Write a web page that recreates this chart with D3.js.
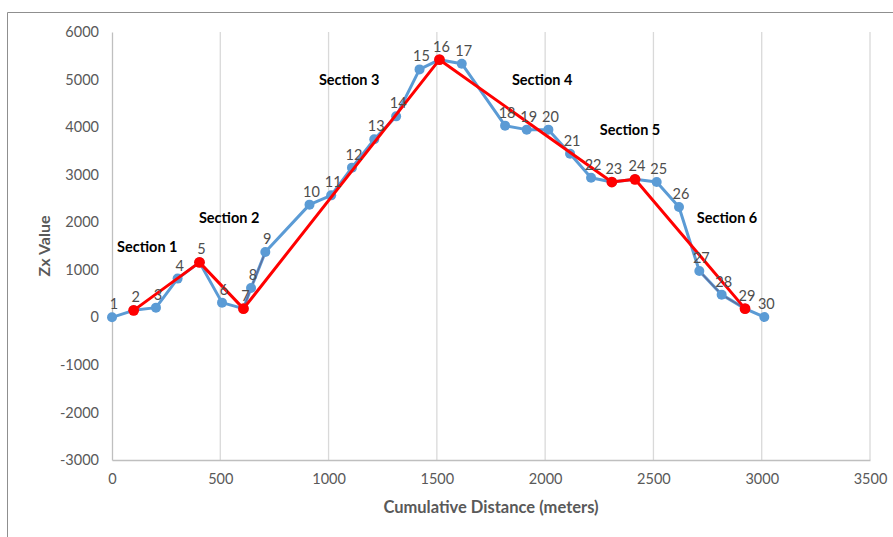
<!DOCTYPE html>
<html><head><meta charset="utf-8">
<script src="https://cdn.jsdelivr.net/npm/d3@7"></script>
<style>body{margin:0;background:#fff}svg{display:block}</style>
</head><body>
<script>
const pointIds = [1,2,3,4,5,6,7,8,9,10,11,12,13,14,15,16,17,18,19,20,21,22,23,24,25,26,27,28,29,30];
const distance = [0,100,203,303,404,508,607,642,708,912,1012,1108,1211,1312,1420,1512,1615,1815,1915,2015,2115,2212,2308,2415,2515,2618,2712,2815,2923,3012];
const zxValue = [0,147,204,814,1156,309,183,616,1373,2370,2565,3148,3743,4226,5214,5418,5334,4031,3947,3947,3442,2937,2845,2902,2845,2319,973,477,183,6];
const sectionBreakIds = [2,5,7,16,23,24,29];
const overlayIds = [[7,8,9],[27,28,29]];
const sectionNames = ["Section 1","Section 2","Section 3","Section 4","Section 5","Section 6"];
const sectionX = [163,541,1095,1986,2392,2840];
const sectionY = [1472,2082,4983,4983,3932,2082];
const xTicks = [0,500,1000,1500,2000,2500,3000,3500];
const yTicks = [-3000,-2000,-1000,0,1000,2000,3000,4000,5000,6000];

const W = 893, H = 537;
const font = "Lato, 'Open Sans', sans-serif";
const svg = d3.select("body").append("svg").attr("width", W).attr("height", H);
svg.append("rect").attr("width", W).attr("height", H).attr("fill", "#fff");
// chart border (top and left visible)
svg.append("path").attr("d", `M7.5,${H} V12.5 H${W}`).attr("fill","none").attr("stroke","#8f8f8f").attr("stroke-width",1);

const x = d3.scaleLinear().domain([0,3500]).range([112,870]);
const y = d3.scaleLinear().domain([-3000,6000]).range([460,32]);

// vertical gridlines
svg.append("g").selectAll("line").data(xTicks.filter(t=>t>0)).join("line")
  .attr("x1", d=>x(d)).attr("x2", d=>x(d)).attr("y1", y(6000)).attr("y2", y(-3000))
  .attr("stroke","#d9d9d9").attr("stroke-width",1.3);

// axes
const fmt = d => String(d);
const xAxis = svg.append("g").attr("transform", `translate(0,${y(-3000)})`)
  .call(d3.axisBottom(x).tickValues(xTicks).tickSize(0).tickPadding(14).tickFormat(fmt));
const yAxis = svg.append("g").attr("transform", `translate(${x(0)},0)`)
  .call(d3.axisLeft(y).tickValues(yTicks).tickSize(0).tickPadding(13).tickFormat(fmt));
[xAxis, yAxis].forEach(g=>{
  g.select(".domain").attr("stroke","#bfbfbf").attr("stroke-width",1.3);
  g.selectAll("text").attr("fill","#595959").attr("font-size",14.5).attr("font-family",font);
});

// axis titles
svg.append("text").attr("x", (x(0)+x(3500))/2).attr("y", 513).attr("text-anchor","middle")
  .attr("font-family",font).attr("font-weight","bold").attr("font-size",16.5).attr("fill","#595959")
  .text("Cumulative Distance (meters)");
svg.append("text").attr("transform", `translate(50,${(y(6000)+y(-3000))/2}) rotate(-90)`).attr("text-anchor","middle")
  .attr("font-family",font).attr("font-weight","bold").attr("font-size",16).attr("fill","#595959")
  .text("Zx Value");

const pts = pointIds.map((id,i)=>({id, d:distance[i], v:zxValue[i]}));
const byId = new Map(pts.map(p=>[p.id,p]));
const line = d3.line().x(p=>x(p.d)).y(p=>y(p.v));

// blue series
svg.append("path").datum(pts).attr("d", line).attr("fill","none")
  .attr("stroke","#5b9bd5").attr("stroke-width",3).attr("stroke-linejoin","round");
overlayIds.forEach(ids=>{
  svg.append("path").datum(ids.map(i=>byId.get(i))).attr("d", line).attr("fill","none")
    .attr("stroke","#5f6f9c").attr("stroke-width",1.4);
});
svg.append("g").selectAll("circle").data(pts).join("circle")
  .attr("cx", p=>x(p.d)).attr("cy", p=>y(p.v)).attr("r", 5).attr("fill","#5b9bd5");

// red section line
const red = sectionBreakIds.map(i=>byId.get(i));
svg.append("path").datum(red).attr("d", line).attr("fill","none")
  .attr("stroke","#ff0000").attr("stroke-width",3).attr("stroke-linejoin","round");
svg.append("g").selectAll("circle").data(red).join("circle")
  .attr("cx", p=>x(p.d)).attr("cy", p=>y(p.v)).attr("r", 5.4).attr("fill","#ff0000");

// point labels
svg.append("g").selectAll("text").data(pts).join("text")
  .attr("x", p=>x(p.d)+2).attr("y", p=>y(p.v)-8).attr("text-anchor","middle")
  .attr("font-family",font).attr("font-size",14.5).attr("fill","#4d4d4d")
  .text(p=>p.id);

// section labels
svg.append("g").selectAll("text").data(sectionNames).join("text")
  .attr("x", (d,i)=>x(sectionX[i])).attr("y", (d,i)=>y(sectionY[i])).attr("dy","0.35em")
  .attr("text-anchor","middle").attr("font-family",font).attr("font-weight","bold")
  .attr("font-size",14.5).attr("fill","#000").text(d=>d);
</script>
</body></html>
